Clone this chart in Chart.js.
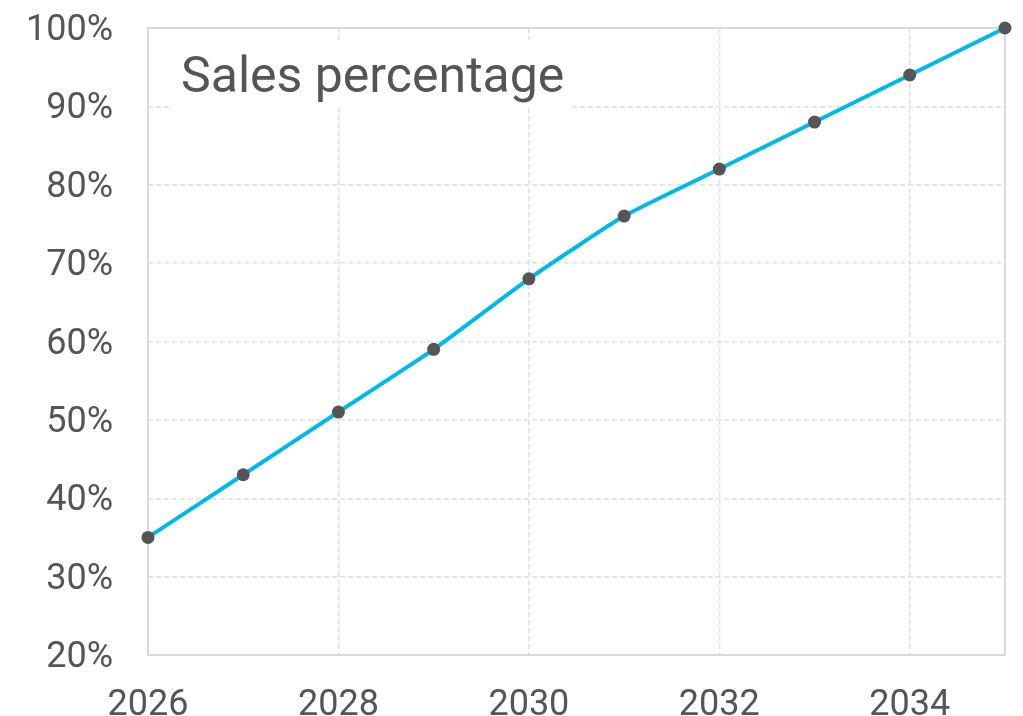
<!DOCTYPE html>
<html><head><meta charset="utf-8">
<script src="https://cdn.jsdelivr.net/npm/chart.js@4"></script>
<style>html,body{margin:0;padding:0;background:#fff}#wrap{width:1023px;height:716px;position:relative}</style>
</head><body><div id="wrap"><canvas id="c" width="1023" height="716"></canvas></div>
<script>
const years = [2026, 2027, 2028, 2029, 2030, 2031, 2032, 2033, 2034, 2035];
const salesPct = [35, 43, 51, 59, 68, 76, 82, 88, 94, 100];
const titleText = "Sales percentage";
const yMin = 20, yMax = 100, yStep = 10;
const xMin = 2026, xMax = 2035, xStep = 2;

const textColor = '#555555';
const gridColor = '#e0e0e0';

const titleBox = {
  id: 'titleBox',
  afterDraw(chart) {
    const ctx = chart.ctx, a = chart.chartArea;
    ctx.save();
    ctx.fillStyle = '#ffffff';
    ctx.fillRect(a.left + 22, a.top + 12, 402, 68);
    ctx.fillStyle = textColor;
    ctx.font = '50px Roboto';
    ctx.textBaseline = 'alphabetic';
    ctx.textAlign = 'left';
    ctx.fillText(titleText, a.left + 33, a.top + 64);
    ctx.restore();
  }
};

new Chart(document.getElementById('c'), {
  type: 'line',
  data: {
    datasets: [{
      data: years.map((y, i) => ({x: y, y: salesPct[i]})),
      borderColor: '#00b9e8',
      borderWidth: 4,
      tension: 0.15,
      pointRadius: 6.5,
      pointBackgroundColor: '#555555',
      pointBorderColor: '#555555',
      pointBorderWidth: 0,
      clip: false
    }]
  },
  options: {
    responsive: false,
    animation: false,
    devicePixelRatio: 1,
    layout: {padding: {top: 0, right: 18, left: 0, bottom: 0}},
    plugins: {legend: {display: false}, tooltip: {enabled: false}},
    scales: {
      x: {
        type: 'linear', min: xMin, max: xMax,
        afterFit(s) { s.height = 61; },
        afterBuildTicks(s) { const t = []; for (let v = xMin; v < xMax; v += xStep) t.push({value: v}); s.ticks = t; },
        ticks: {color: textColor, font: {family: 'Roboto', size: 36}, padding: 29, maxRotation: 0, callback: v => String(v)},
        grid: {color: gridColor, lineWidth: 1.5, drawTicks: false},
        border: {display: false, dash: [5, 3]}
      },
      y: {
        min: yMin, max: yMax,
        afterFit(s) { s.width = 148; s.paddingTop = 28; s.paddingBottom = 0; },
        ticks: {stepSize: yStep, color: textColor, font: {family: 'Roboto', size: 36}, padding: 35, labelOffset: 3, callback: v => v + '%'},
        grid: {color: gridColor, lineWidth: 1.5, drawTicks: false},
        border: {display: false, dash: [5, 3]}
      }
    }
  },
  plugins: [{
    id: 'frame',
    beforeDatasetsDraw(chart) {
      const ctx = chart.ctx, a = chart.chartArea;
      ctx.save();
      ctx.strokeStyle = '#d9d9d9';
      ctx.lineWidth = 2;
      ctx.strokeRect(a.left, a.top, a.right - a.left, a.bottom - a.top);
      ctx.restore();
    }
  }, titleBox]
});
</script>
</body></html>
